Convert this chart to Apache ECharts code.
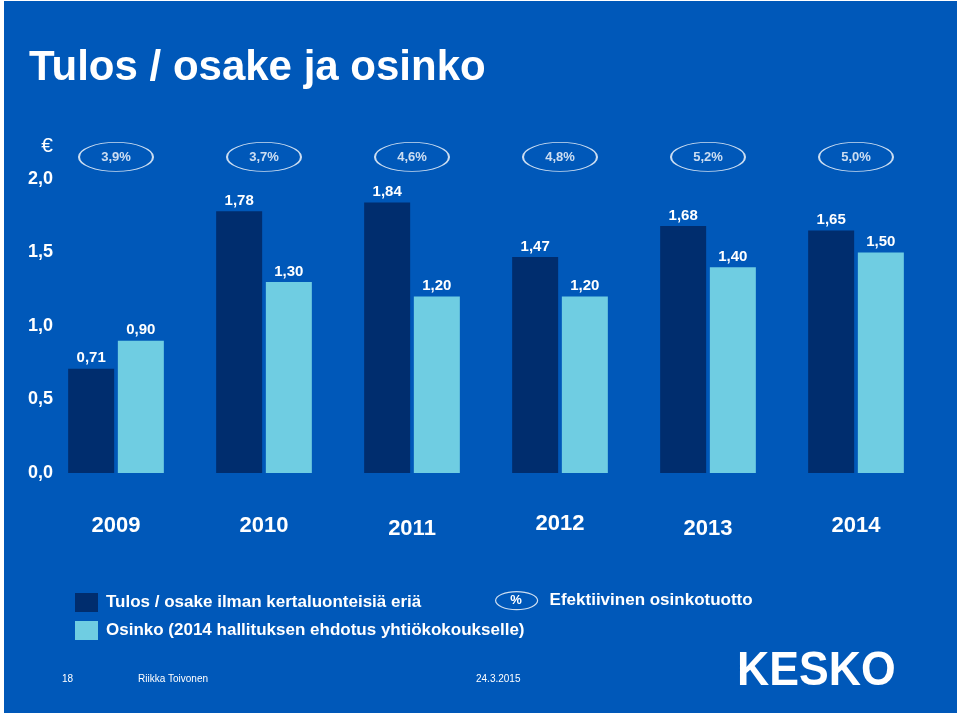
<!DOCTYPE html>
<html lang="fi">
<head>
    <meta charset="UTF-8">
    <title>Tulos / osake ja osinko</title>
    <script src="https://cdn.jsdelivr.net/npm/echarts@6.0.0/dist/echarts.min.js"></script>
    <style>
        html, body { margin: 0; padding: 0; background: #ffffff; }
        #chart { width: 960px; height: 716px; }
    </style>
</head>
<body>
    <div id="chart"></div>
    <script>
        // vuodet ja arvot (euroa / osake)
        var years = ['2009', '2010', '2011', '2012', '2013', '2014'];
        var eps = [0.71, 1.78, 1.84, 1.47, 1.68, 1.65];
        var dividend = [0.90, 1.30, 1.20, 1.20, 1.40, 1.50];
        var yieldPct = [3.9, 3.7, 4.6, 4.8, 5.2, 5.0];
        var yTicks = [0, 0.5, 1.0, 1.5, 2.0];

        var BLUE = '#0058b9';
        var DARK = '#002d6e';
        var LIGHT = '#6fcde2';
        var FONT = 'Liberation Sans, Arial, sans-serif';
        var ELLIPSE = 'path://M0,50A100,50 0 1,0 200,50A100,50 0 1,0 0,50Z';
        var ELLIPSE_LEG = 'path://M0,9A21,9 0 1,0 42,9A21,9 0 1,0 0,9Z';

        function fi(v, d) { return v.toFixed(d).replace('.', ','); }

        // pieni pystysuuntainen heitto vuosiluvuissa kuten alkuperäisessä
        var yearShift = [2, 2, 5, 0, 5, 2];
        var yearRich = {};
        years.forEach(function (y, i) {
            yearRich['y' + i] = {
                color: '#fff', fontSize: 22, fontWeight: 'bold', fontFamily: FONT,
                padding: [yearShift[i], 0, 0, 0]
            };
        });

        var chart = echarts.init(document.getElementById('chart'));

        var legendText = { color: '#fff', fontSize: 17, fontWeight: 'bold', fontFamily: FONT };

        var option = {
            backgroundColor: '#ffffff',
            animation: false,
            textStyle: { fontFamily: FONT },
            title: {
                text: 'Tulos / osake ja osinko',
                left: 24, top: 42,
                textStyle: { color: '#fff', fontSize: 42, fontWeight: 'bold', fontFamily: FONT }
            },
            grid: { left: 42, right: 30, top: 179, bottom: 243 },
            legend: [{
                data: ['Tulos / osake ilman kertaluonteisiä eriä', 'Osinko (2014 hallituksen ehdotus yhtiökokoukselle)'],
                orient: 'vertical',
                left: 75, top: 593, padding: 0,
                icon: 'rect',
                itemWidth: 23, itemHeight: 19, itemGap: 9,
                selectedMode: false,
                textStyle: Object.assign({ padding: [0, 0, 0, 3] }, legendText)
            }, {
                data: [{ name: 'Efektiivinen osinkotuotto', icon: ELLIPSE_LEG }],
                left: 495, top: 591, padding: 0,
                itemWidth: 42, itemHeight: 18,
                selectedMode: false,
                itemStyle: { color: 'rgba(0,0,0,0)', borderColor: '#fff', borderWidth: 1.2 },
                textStyle: Object.assign({ padding: [0, 0, 0, 7] }, legendText)
            }],
            xAxis: {
                type: 'category',
                data: years,
                axisLine: { show: false },
                axisTick: { show: false },
                axisLabel: {
                    margin: 40,
                    formatter: function (v) { return '{y' + years.indexOf(v) + '|' + v + '}'; },
                    rich: yearRich
                }
            },
            yAxis: {
                type: 'value',
                min: yTicks[0], max: yTicks[yTicks.length - 1], interval: 0.5,
                offset: -19,
                name: '€',
                nameLocation: 'end',
                nameGap: 22,
                nameTextStyle: { color: '#fff', fontSize: 21, align: 'right', padding: [0, 8, 0, 0], fontFamily: FONT },
                axisLine: { show: false },
                axisTick: { show: false },
                splitLine: { show: false },
                axisLabel: {
                    color: '#fff', fontSize: 18, fontWeight: 'bold', fontFamily: FONT,
                    formatter: function (v) { return fi(v, 1); }
                }
            },
            series: [{
                name: 'Tulos / osake ilman kertaluonteisiä eriä',
                type: 'bar',
                data: eps,
                barWidth: 46,
                barGap: '8%',
                itemStyle: { color: DARK },
                label: {
                    show: true, position: 'top', distance: 3,
                    color: '#fff', fontSize: 15, fontWeight: 'bold', fontFamily: FONT,
                    formatter: function (p) { return fi(p.value, 2); }
                }
            }, {
                name: 'Osinko (2014 hallituksen ehdotus yhtiökokoukselle)',
                type: 'bar',
                data: dividend,
                barWidth: 46,
                itemStyle: { color: LIGHT },
                label: {
                    show: true, position: 'top', distance: 3,
                    color: '#fff', fontSize: 15, fontWeight: 'bold', fontFamily: FONT,
                    formatter: function (p) { return fi(p.value, 2); }
                }
            }, {
                name: 'Efektiivinen osinkotuotto',
                type: 'scatter',
                clip: false,
                symbol: ELLIPSE,
                symbolKeepAspect: false,
                symbolSize: [74, 29],
                data: years.map(function (y) { return { value: [y, 2.15] }; }),
                itemStyle: { color: 'rgba(0,0,0,0)', borderColor: '#fff', borderWidth: 1.3 },
                label: {
                    show: true, position: 'inside',
                    color: '#fff', fontSize: 13, fontWeight: 'bold', fontFamily: FONT,
                    formatter: function (p) { return fi(yieldPct[p.dataIndex], 1) + '%'; }
                }
            }],
            graphic: [{
                type: 'rect', z: -100, silent: true,
                shape: { x: 4, y: 1, width: 953, height: 712 },
                style: { fill: BLUE }
            }, {
                type: 'text', x: 516, y: 600, silent: true,
                style: { text: '%', fill: '#fff', font: 'bold 13px ' + FONT, align: 'center', verticalAlign: 'middle' }
            }, {
                type: 'text', x: 62, y: 674, silent: true,
                style: { text: '18', fill: '#fff', font: '10px ' + FONT }
            }, {
                type: 'text', x: 138, y: 674, silent: true,
                style: { text: 'Riikka Toivonen', fill: '#fff', font: '10px ' + FONT }
            }, {
                type: 'text', x: 476, y: 674, silent: true,
                style: { text: '24.3.2015', fill: '#fff', font: '10px ' + FONT }
            }, {
                type: 'text', x: 737, y: 647, scaleX: 0.91, silent: true,
                style: { text: 'KESKO', fill: '#fff', font: 'bold 49px ' + FONT }
            }]
        };

        chart.setOption(option);
    </script>
</body>
</html>
